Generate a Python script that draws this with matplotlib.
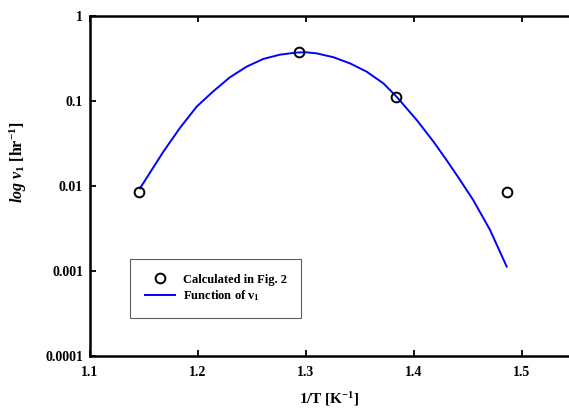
import numpy as np
import matplotlib
matplotlib.use("Agg")
import matplotlib.pyplot as plt

# values
calc_x = [1.1455, 1.2937, 1.3830, 1.4858]
calc_y = [0.0084, 0.372, 0.110, 0.0084]

# blue function curve (log10 of v1)
func_x = [1.1463, 1.1679, 1.1833, 1.1988, 1.2142, 1.2296, 1.2451, 1.2605,
          1.2759, 1.2914, 1.3000, 1.3099, 1.3253, 1.3407, 1.3562, 1.3716,
          1.3840, 1.4025, 1.4179, 1.4302, 1.4425, 1.4549, 1.4704, 1.4858]
func_logy = [-2.03, -1.60, -1.32, -1.07, -0.89, -0.725, -0.60, -0.51,
             -0.46, -0.435, -0.432, -0.445, -0.49, -0.562, -0.66, -0.797,
             -0.956, -1.228, -1.48, -1.70, -1.93, -2.17, -2.52, -2.95]
func_y = [10 ** v for v in func_logy]

x_ticks = [1.1, 1.2, 1.3, 1.4, 1.5]
y_ticks = [0.0001, 0.001, 0.01, 0.1, 1]
y_tick_labels = ["0.0001", "0.001", "0.01", "0.1", "1"]

plt.rcParams['font.family'] = ['Liberation Serif', 'DejaVu Serif']
plt.rcParams['font.weight'] = 'bold'
plt.rcParams['mathtext.fontset'] = 'custom'
plt.rcParams['mathtext.rm'] = 'Liberation Serif:bold'
plt.rcParams['mathtext.it'] = 'Liberation Serif:italic:bold'
plt.rcParams['mathtext.bf'] = 'Liberation Serif:bold'

fig = plt.figure(figsize=(5.69, 4.09), dpi=100)
ax = fig.add_axes([0.1582, 0.1296, 0.8418, 0.8325])

ax.plot(calc_x, calc_y, linestyle='none', marker='o', markersize=7,
        markerfacecolor='none', markeredgecolor='black', markeredgewidth=1.4,
        label='Calculated in Fig. 2', zorder=3)
ax.plot(func_x, func_y, color='#0000ff', linewidth=1.4,
        label=r'Function of $\mathbf{v}_\mathbf{1}$', zorder=2)

ax.set_yscale('log')
ax.set_xlim(1.1, 1.5435)
ax.set_ylim(0.0001, 1)
ax.set_xticks(x_ticks, [str(t) for t in x_ticks])
ax.set_yticks(y_ticks, y_tick_labels)
ax.minorticks_off()

for side in ['left', 'bottom', 'top']:
    ax.spines[side].set_linewidth(1.8)
ax.spines['right'].set_visible(False)
ax.tick_params(direction='in', length=4, width=1.3, labelsize=10,
               top=True, right=False)
ax.tick_params(axis='x', pad=7)
ax.tick_params(axis='y', pad=5)

ax.set_xlabel(r'1/T [K$^{-1}$]', fontsize=11, fontweight='bold')
ax.set_ylabel(r'$log\ v_{1}$ [hr$^{-1}$]', fontsize=11.5, fontweight='bold')
ax.yaxis.set_label_coords(-0.128, 0.57)
ax.xaxis.set_label_coords(0.5, -0.1)

leg = ax.legend(loc='lower left', bbox_to_anchor=(0.0835, 0.1116, 0.357, 0.16),
                mode='expand', borderaxespad=0, fontsize=9,
                frameon=True, fancybox=False, edgecolor='#333333',
                borderpad=1.2, handlelength=2.4, handletextpad=0.6,
                labelspacing=0.2)
leg.get_frame().set_linewidth(0.8)

fig.savefig('out.png', dpi=100)
